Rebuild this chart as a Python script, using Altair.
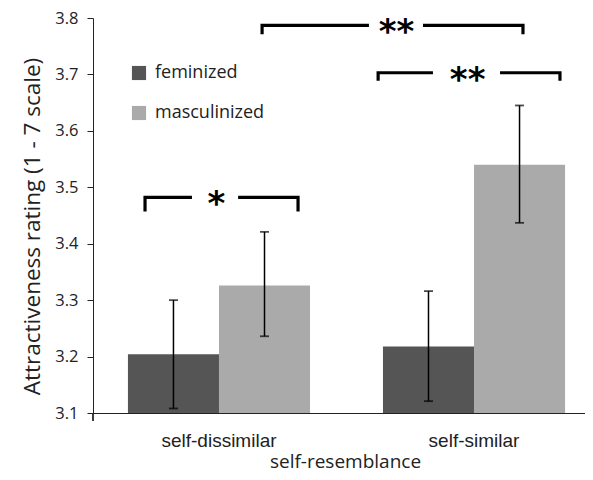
import altair as alt
import pandas as pd

groups = ["self-dissimilar", "self-similar"]
series = ["feminized", "masculinized"]
colors = ["#555555", "#aaaaaa"]

fem_mean = [3.204, 3.218]
fem_lo = [3.108, 3.121]
fem_hi = [3.300, 3.316]
masc_mean = [3.326, 3.540]
masc_lo = [3.236, 3.437]
masc_hi = [3.421, 3.645]

# significance brackets (x in group units: 0 = first group centre, 1 = second)
br_label = ["**", "**", "*"]
br_xl = [0.169, 0.624, -0.290]
br_gl = [0.588, 0.839, -0.106]
br_gr = [0.800, 1.102, 0.075]
br_xr = [1.192, 1.337, 0.310]
br_xt = [0.696, 0.975, -0.010]
br_y = [3.787, 3.703, 3.482]
br_yend = [3.771, 3.689, 3.457]

rows = []
for i, g in enumerate(groups):
    rows.append(dict(group=g, series=series[0], mean=fem_mean[i], lo=fem_lo[i], hi=fem_hi[i]))
    rows.append(dict(group=g, series=series[1], mean=masc_mean[i], lo=masc_lo[i], hi=masc_hi[i]))
df = pd.DataFrame(rows)

caps = []
for r in rows:
    caps.append(dict(group=r["group"], series=r["series"], v=r["lo"]))
    caps.append(dict(group=r["group"], series=r["series"], v=r["hi"]))
caps = pd.DataFrame(caps)

seg = []
for k in range(len(br_label)):
    pts_l = [(br_xl[k], br_yend[k]), (br_xl[k], br_y[k]), (br_gl[k], br_y[k])]
    pts_r = [(br_gr[k], br_y[k]), (br_xr[k], br_y[k]), (br_xr[k], br_yend[k])]
    for j, (x, y) in enumerate(pts_l):
        seg.append(dict(seg=f"{k}L", idx=j, x=x, y=y))
    for j, (x, y) in enumerate(pts_r):
        seg.append(dict(seg=f"{k}R", idx=j, x=x, y=y))
seg = pd.DataFrame(seg)
lab = pd.DataFrame(dict(x=br_xt, y=br_y, label=br_label))

yscale = alt.Scale(domain=[3.1, 3.8], nice=False, zero=False)
xband = alt.Scale(range=[0, 507], paddingInner=0.286, paddingOuter=0.137)
xlin = alt.Scale(domain=[-0.494, 1.494], range=[0, 507], nice=False, zero=False)

x_enc = alt.X("group:N", sort=groups, scale=xband, title="self-resemblance",
              axis=alt.Axis(labelFont="Liberation Sans", labelFontSize=19, labelColor="#222",
                            labelPadding=18, tickSize=0, domainColor="#222", labelAngle=0,
                            titleFont="Open Sans", titleFontSize=19, titleColor="#222",
                            titleFontWeight="normal", titleX=252, titleY=54,
                            titleBaseline="alphabetic"))
xo = alt.XOffset("series:N", sort=series)

bars = alt.Chart(df).mark_bar().encode(
    x=x_enc,
    xOffset=xo,
    y=alt.Y("mean:Q", scale=yscale, title="Attractiveness rating (1 - 7 scale)",
            axis=alt.Axis(values=[3.1, 3.2, 3.3, 3.4, 3.5, 3.6, 3.7, 3.8], format=".1f",
                          grid=False, tickSize=6, tickColor="#222", domainColor="#222",
                          labelFont="Open Sans", labelFontSize=16.5, labelColor="#222",
                          labelPadding=9, titleFont="Open Sans", titleFontSize=22.5,
                          titleColor="#222", titleFontWeight="normal", titlePadding=10,
                          titleY=208)),
    y2=alt.datum(3.1),
    color=alt.Color("series:N", sort=series, scale=alt.Scale(domain=series, range=colors),
                    legend=alt.Legend(title=None)),
)

err = alt.Chart(df).mark_rule(color="black", strokeWidth=1.5).encode(
    x=alt.X("group:N", sort=groups, scale=xband),
    xOffset=xo,
    y=alt.Y("lo:Q", scale=yscale),
    y2="hi:Q",
)
cap = alt.Chart(caps).mark_tick(color="black", size=9, thickness=1.8).encode(
    x=alt.X("group:N", sort=groups, scale=xband),
    xOffset=xo,
    y=alt.Y("v:Q", scale=yscale),
)

base = alt.layer(bars, err, cap)

lines = alt.Chart(seg).mark_line(color="black", strokeWidth=3.2).encode(
    x=alt.X("x:Q", scale=xlin, axis=None),
    y=alt.Y("y:Q", scale=yscale),
    detail="seg:N",
    order="idx:Q",
)
stars = alt.Chart(lab).mark_text(font="DejaVu Sans", fontWeight="bold", fontSize=34,
                                 baseline="alphabetic", dy=18, color="black").encode(
    x=alt.X("x:Q", scale=xlin, axis=None),
    y=alt.Y("y:Q", scale=yscale),
    text="label:N",
)
ext = alt.Chart(lab).mark_rule(color="#222").encode(
    x=alt.value(0), y=alt.value(395), y2=alt.value(403))

ann = alt.layer(lines, stars, ext)

chart = alt.layer(base, ann).resolve_scale(x="independent").properties(
    width=492, height=395,
    autosize=alt.AutoSizeParams(type="none"),
    padding={"left": 85, "top": 10, "right": 0, "bottom": 59},
).configure_view(stroke=None).configure_legend(
    orient="none", legendX=37, legendY=46, labelFont="Open Sans", labelFontSize=18,
    labelColor="#222", symbolType="square", symbolSize=200, symbolStrokeWidth=0,
    rowPadding=22, labelOffset=7,
)

chart.save("out.html", embed_options={"renderer": "svg", "actions": False})
